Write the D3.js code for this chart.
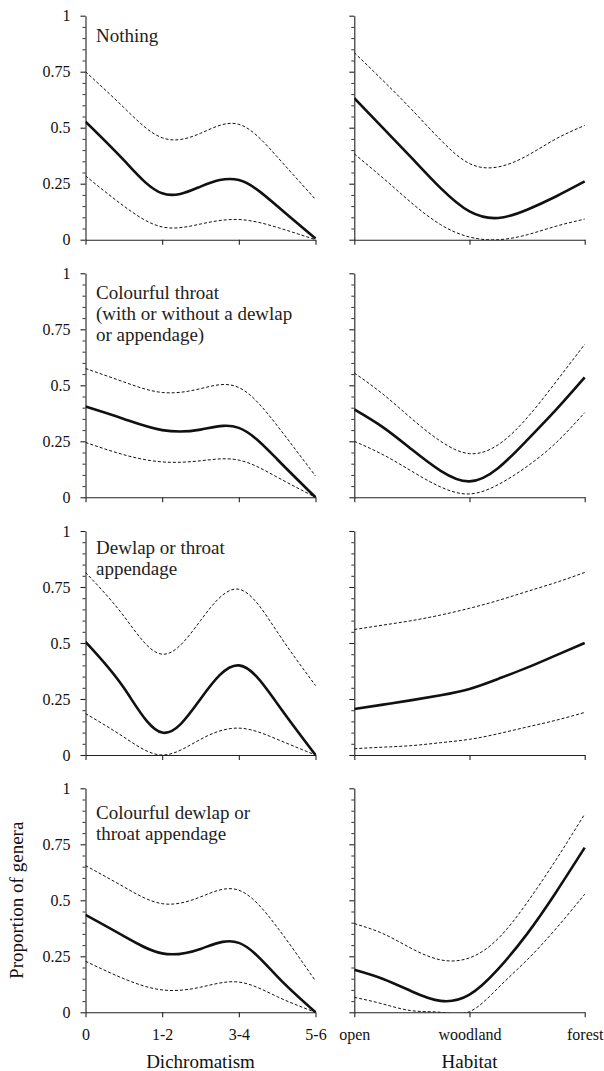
<!DOCTYPE html>
<html>
<head>
<meta charset="utf-8">
<script src="https://cdn.jsdelivr.net/npm/d3@7"></script>
<style>
  body { margin: 0; background: #fff; }
  svg { display: block; }
  svg text { font-family: "Liberation Serif", "Times New Roman", serif; }
</style>
</head>
<body>
<script>
"use strict";

/*
 * Proportion of genera by dichromatism and habitat, one row per throat trait.
 */

const dichromCats = ["0", "1-2", "3-4", "5-6"];
const habitatCats = ["open", "woodland", "forest"];

const dichromAt = [0, 0.5, 1, 1.5, 2, 2.5, 3];
const habitatAt = [0, 0.25, 0.5, 0.75, 1, 1.25, 1.5, 1.75, 2];

const panelLabels = [
  ["Nothing"],
  ["Colourful throat", "(with or without a dewlap", "or appendage)"],
  ["Dewlap or throat", "appendage"],
  ["Colourful dewlap or", "throat appendage"]
];

// one row per trait, fitted proportion and its confidence band
const dichMean = [
  [0.527, 0.355, 0.207, 0.237, 0.266, 0.15, 0.005],
  [0.405, 0.35, 0.30, 0.302, 0.31, 0.17, 0.0],
  [0.505, 0.30, 0.10, 0.25, 0.40, 0.23, 0.0],
  [0.435, 0.34, 0.263, 0.283, 0.31, 0.16, 0.0]
];
const dichUpper = [
  [0.75, 0.59, 0.455, 0.475, 0.515, 0.37, 0.18],
  [0.575, 0.515, 0.468, 0.485, 0.49, 0.32, 0.095],
  [0.815, 0.62, 0.45, 0.60, 0.74, 0.55, 0.31],
  [0.655, 0.56, 0.485, 0.515, 0.545, 0.38, 0.14]
];
const dichLower = [
  [0.285, 0.15, 0.057, 0.07, 0.09, 0.055, 0.0],
  [0.245, 0.19, 0.158, 0.163, 0.166, 0.09, 0.0],
  [0.185, 0.08, 0.0, 0.07, 0.12, 0.07, 0.0],
  [0.228, 0.15, 0.10, 0.112, 0.135, 0.07, 0.0]
];

const habMean = [
  [0.632, 0.498, 0.364, 0.23, 0.126, 0.097, 0.134, 0.193, 0.26],
  [0.392, 0.312, 0.213, 0.118, 0.071, 0.131, 0.255, 0.39, 0.535],
  [0.205, 0.225, 0.245, 0.267, 0.295, 0.34, 0.39, 0.445, 0.5],
  [0.19, 0.149, 0.093, 0.051, 0.079, 0.194, 0.35, 0.535, 0.735]
];
const habUpper = [
  [0.835, 0.71, 0.58, 0.445, 0.34, 0.325, 0.375, 0.45, 0.51],
  [0.555, 0.46, 0.35, 0.25, 0.195, 0.235, 0.355, 0.515, 0.683],
  [0.56, 0.58, 0.60, 0.625, 0.655, 0.69, 0.73, 0.77, 0.815],
  [0.396, 0.351, 0.284, 0.234, 0.243, 0.33, 0.49, 0.68, 0.885]
];
const habLower = [
  [0.383, 0.275, 0.163, 0.067, 0.012, 0.0, 0.022, 0.06, 0.092],
  [0.25, 0.19, 0.116, 0.046, 0.015, 0.057, 0.138, 0.243, 0.378],
  [0.028, 0.035, 0.042, 0.055, 0.07, 0.095, 0.125, 0.155, 0.19],
  [0.067, 0.037, 0.007, 0.0, 0.003, 0.11, 0.234, 0.373, 0.527]
];

const yMajor = [0, 0.25, 0.5, 0.75, 1];
const yMinor = d3.range(1, 20).map(i => i / 20).filter(v => !yMajor.includes(v));

const width = 604;
const height = 1071;
const serif = "'Liberation Serif', 'Times New Roman', serif";
const rowTop = [15.7, 273.3, 531, 788.3];
const rowHeight = 224;
const columns = [
  {x0: 85.5, x1: 315.5, cats: dichromCats, at: dichromAt,
   mean: dichMean, upper: dichUpper, lower: dichLower, title: "Dichromatism"},
  {x0: 354.3, x1: 584.7, cats: habitatCats, at: habitatAt,
   mean: habMean, upper: habUpper, lower: habLower, title: "Habitat"}
];
const labelDy = [26.6, 26, 23, 31];
const labelLine = 20.8;

let svg = d3.select("body").append("svg")
    .attr("width", width)
    .attr("height", height)
    .attr("font-family", serif);

let defs = svg.append("defs");

columns.forEach((col, c) => {
  rowTop.forEach((top, r) => {
    let x = d3.scaleLinear()
        .domain([0, col.cats.length - 1])
        .range([col.x0, col.x1]);
    let y = d3.scaleLinear()
        .domain([0, 1])
        .range([top + rowHeight, top]);
    let bottom = r === rowTop.length - 1;

    let g = svg.append("g");

    // minor y ticks
    g.append("g")
      .attr("transform", `translate(${col.x0},0)`)
      .call(d3.axisLeft(y).tickValues(yMinor).tickSize(3).tickFormat(""))
      .call(a => a.select(".domain").remove())
      .selectAll("line").attr("stroke", "#333");

    let yAxis = g.append("g")
      .attr("transform", `translate(${col.x0},0)`)
      .call(d3.axisLeft(y)
            .tickValues(yMajor)
            .tickSize(5)
            .tickSizeOuter(0)
            .tickPadding(10)
            .tickFormat(c === 0 ? d3.format("") : ""));

    let xAxis = g.append("g")
      .attr("transform", `translate(0,${y(0)})`)
      .call(d3.axisBottom(x)
            .tickValues(d3.range(col.cats.length))
            .tickSize(5)
            .tickSizeOuter(0)
            .tickPadding(11)
            .tickFormat(bottom ? (i => col.cats[i]) : ""));

    for (let a of [yAxis, xAxis]) {
      a.attr("font-family", serif).attr("font-size", 16);
      a.selectAll(".domain, line").attr("stroke", "#222").attr("stroke-width", 1.1);
      a.selectAll("text").attr("fill", "#111");
    }

    let clipId = `clip-${c}-${r}`;
    defs.append("clipPath").attr("id", clipId)
      .append("rect")
      .attr("x", col.x0)
      .attr("y", y(1) - 2)
      .attr("width", col.x1 - col.x0 + 2)
      .attr("height", y(0) - y(1) + 2.5);

    let line = d3.line()
        .x((d, i) => x(col.at[i]))
        .y(d => y(d))
        .curve(d3.curveNatural);

    let plot = g.append("g").attr("clip-path", `url(#${clipId})`);
    for (let band of [col.upper[r], col.lower[r]]) {
      plot.append("path")
        .attr("d", line(band))
        .attr("fill", "none")
        .attr("stroke", "#111")
        .attr("stroke-width", 1)
        .attr("stroke-dasharray", "3,2");
    }
    plot.append("path")
      .attr("d", line(col.mean[r]))
      .attr("fill", "none")
      .attr("stroke", "#111")
      .attr("stroke-width", 2.6)
      .attr("stroke-linejoin", "round");

    if (c === 0) {
      g.append("text")
        .attr("x", col.x0 + 10.5)
        .attr("y", top + labelDy[r])
        .attr("fill", "#222")
        .attr("font-size", 19)
        .selectAll("tspan")
        .data(panelLabels[r])
        .join("tspan")
        .attr("x", col.x0 + 10.5)
        .attr("dy", (d, i) => i === 0 ? 0 : labelLine)
        .text(d => d);
    }

    if (bottom) {
      g.append("text")
        .attr("x", (col.x0 + col.x1) / 2)
        .attr("y", 1068)
        .attr("text-anchor", "middle")
        .attr("fill", "#111")
        .attr("font-size", 19)
        .text(col.title);
    }
  });
});

svg.append("text")
  .attr("transform", `translate(23,${rowTop[3] + rowHeight / 2}) rotate(-90)`)
  .attr("text-anchor", "middle")
  .attr("fill", "#111")
  .attr("font-size", 19)
  .text("Proportion of genera");
</script>
</body>
</html>
